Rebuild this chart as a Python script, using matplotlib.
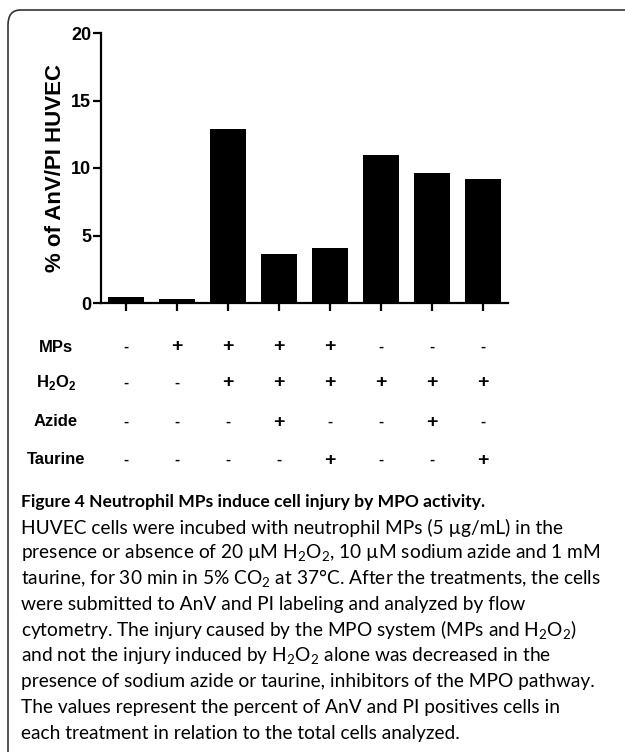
import numpy as np
import matplotlib
matplotlib.use("Agg")
import matplotlib.pyplot as plt
from matplotlib import transforms
from matplotlib.patches import FancyBboxPatch

# data
valores = [0.42, 0.30, 12.9, 3.63, 4.07, 10.94, 9.6, 9.19]
y_ticks = [0, 5, 10, 15, 20]
linhas = ["MPs", "H2O2", "Azide", "Taurine"]
sinais = {
    "MPs":     ["-", "+", "+", "+", "+", "-", "-", "-"],
    "H2O2":    ["-", "-", "+", "+", "+", "+", "+", "+"],
    "Azide":   ["-", "-", "-", "+", "-", "-", "+", "-"],
    "Taurine": ["-", "-", "-", "-", "+", "-", "-", "+"],
}
rotulos = {"MPs": "MPs", "H2O2": r"H$_\mathbf{2}$O$_\mathbf{2}$",
           "Azide": "Azide", "Taurine": "Taurine"}
titulo = "Figure 4 Neutrophil MPs induce cell injury by MPO activity."
legenda = [
    "HUVEC cells were incubed with neutrophil MPs (5 µg/mL) in the",
    r"presence or absence of 20 µM H$_2$O$_2$, 10 µM sodium azide and 1 mM",
    r"taurine, for 30 min in 5% CO$_2$ at 37°C. After the treatments, the cells",
    "were submitted to AnV and PI labeling and analyzed by flow",
    r"cytometry. The injury caused by the MPO system (MPs and H$_2$O$_2$)",
    r"and not the injury induced by H$_2$O$_2$ alone was decreased in the",
    "presence of sodium azide or taurine, inhibitors of the MPO pathway.",
    "The values represent the percent of AnV and PI positives cells in",
    "each treatment in relation to the total cells analyzed.",
]

FONTE_LEG = "Lato"
plt.rcParams["mathtext.fontset"] = "custom"
plt.rcParams["mathtext.rm"] = FONTE_LEG
plt.rcParams["mathtext.bf"] = "Liberation Sans:bold"

W, H = 625, 752
fig = plt.figure(figsize=(W / 100, H / 100), dpi=100)

# moldura arredondada
caixa = FancyBboxPatch((8 / W, -20 / H), (W + 20) / W, (H + 10) / H,
                       boxstyle="round,pad=0,rounding_size=0.02",
                       transform=fig.transFigure, fill=False,
                       edgecolor="#333333", linewidth=1.2)
fig.patches.append(caixa)

ax = fig.add_axes([101 / W, 1 - 303 / H, 407 / W, 270 / H])
x = np.arange(len(valores))
ax.bar(x, valores, width=0.71, color="black")
ax.set_xlim(-0.5, len(valores) - 0.5)
ax.set_ylim(0, 20)
ax.spines["top"].set_visible(False)
ax.spines["right"].set_visible(False)
for s in ("left", "bottom"):
    ax.spines[s].set_linewidth(1.6)
ax.set_yticks(y_ticks)
ax.set_yticklabels([str(v) for v in y_ticks], fontfamily="Liberation Sans",
                   fontweight="bold", fontsize=13)
ax.set_xticks(x)
ax.set_xticklabels([])
ax.tick_params(axis="both", direction="out", width=1.6, length=6, pad=1)
ax.set_ylabel("% of AnV/PI HUVEC", fontfamily="Liberation Sans",
              fontweight="bold", fontsize=16, labelpad=4)

# tabela de tratamentos
trans = transforms.blended_transform_factory(ax.transData, fig.transFigure)
ys = [347, 383, 422, 460]
for nome, yy in zip(linhas, ys):
    fig.text(56 / W, 1 - yy / H, rotulos[nome], ha="center", va="center",
             fontfamily="Liberation Sans", fontweight="bold", fontsize=12)
    for i, s in enumerate(sinais[nome]):
        ax.text(i, 1 - yy / H, s, transform=trans, ha="center", va="center",
                fontfamily="Liberation Sans", fontweight="bold",
                fontsize=14 if s == "+" else 11)

# legenda da figura
fig.text(21 / W, 1 - 502 / H, titulo, ha="left", va="center",
         fontfamily=FONTE_LEG, fontweight="bold", fontsize=12.6)
for k, linha in enumerate(legenda):
    fig.text(21 / W, 1 - (502 + 25.7 * (k + 1)) / H, linha, ha="left",
             va="center", fontfamily=FONTE_LEG, fontsize=13.8)

fig.savefig("out.png", dpi=100)
